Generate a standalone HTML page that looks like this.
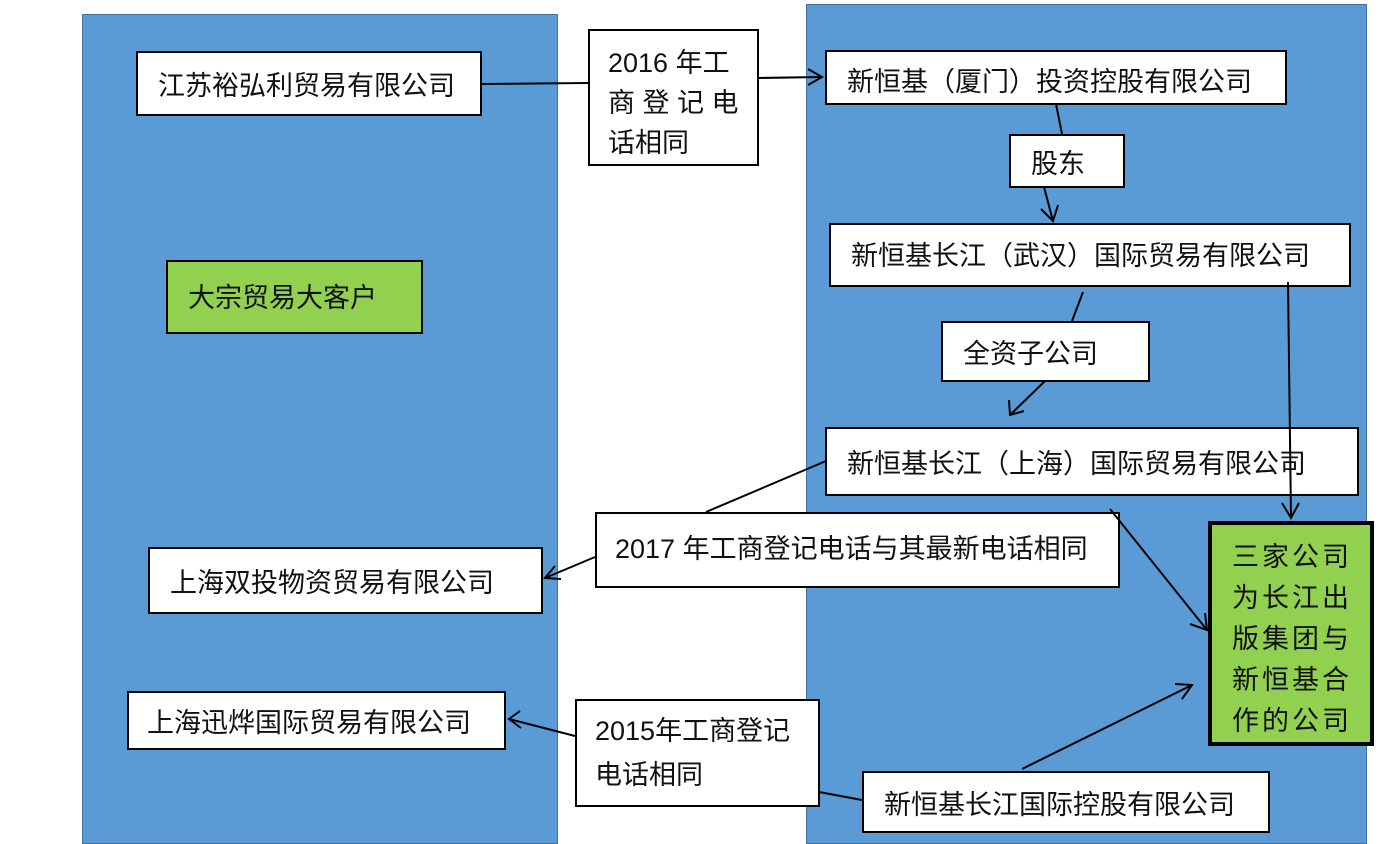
<!DOCTYPE html>
<html><head><meta charset="utf-8"><style>
body{margin:0;width:1398px;height:835px;background:#fff;position:relative;overflow:hidden;font-family:"Liberation Sans","Noto Sans CJK SC",sans-serif;}
.p{position:absolute;background:#5b9bd5;border:1px solid #41719c;box-sizing:border-box}
.b{position:absolute;background:#fff;border:2px solid #000;box-sizing:border-box;font-size:27px;color:#111;padding-left:20px;display:flex;align-items:center;white-space:nowrap}
.g{background:#92d050}
svg{position:absolute;left:0;top:0}
</style></head><body>
<div class="p" style="left:82px;top:14px;width:476px;height:830px"></div>
<div class="p" style="left:806px;top:4px;width:561px;height:840px"></div>

<div class="b" style="left:136px;top:51px;width:346px;height:65px">江苏裕弘利贸易有限公司</div>
<div class="b" style="left:588px;top:29px;width:171px;height:137px;display:block;padding:12px 0 0 18px;line-height:40px;white-space:normal">2016 年工<br>商 登 记 电<br>话相同</div>
<div class="b" style="left:825px;top:50px;width:462px;height:55px;padding-top:4px">新恒基（厦门）投资控股有限公司</div>
<div class="b" style="left:1009px;top:134px;width:116px;height:54px">股东</div>
<div class="b" style="left:829px;top:223px;width:522px;height:64px;padding-bottom:4px">新恒基长江（武汉）国际贸易有限公司</div>
<div class="b" style="left:941px;top:321px;width:209px;height:61px">全资子公司</div>
<div class="b" style="left:825px;top:427px;width:534px;height:69px;align-items:flex-start;padding-top:13px">新恒基长江（上海）国际贸易有限公司</div>
<div class="b g" style="left:1208px;top:521px;width:166px;height:225px;border-width:4px;display:block;padding:12px 0 0 20px;line-height:41px;white-space:normal;letter-spacing:3px;font-size:27px">三家公司<br>为长江出<br>版集团与<br>新恒基合<br>作的公司</div>
<div class="b" style="left:595px;top:512px;width:525px;height:76px;align-items:flex-start;padding-top:13px;padding-left:18px">2017 年工商登记电话与其最新电话相同</div>
<div class="b" style="left:148px;top:547px;width:395px;height:67px">上海双投物资贸易有限公司</div>
<div class="b g" style="left:166px;top:260px;width:257px;height:74px;align-items:flex-start;padding-top:14px">大宗贸易大客户</div>
<div class="b" style="left:127px;top:691px;width:379px;height:59px;padding-left:18px">上海迅烨国际贸易有限公司</div>
<div class="b" style="left:575px;top:699px;width:245px;height:108px;display:block;padding:8px 0 0 18px;line-height:44px;white-space:normal">2015年工商登记<br>电话相同</div>
<div class="b" style="left:862px;top:771px;width:408px;height:62px">新恒基长江国际控股有限公司</div>

<svg width="1398" height="835" fill="none" stroke="#000" stroke-width="2">
<line x1="481" y1="84" x2="588" y2="83"/>
<line x1="758" y1="78" x2="822" y2="77"/><polyline points="808,69 822,77 808,85"/>
<line x1="1056" y1="104" x2="1062" y2="134"/>
<line x1="1044" y1="187" x2="1053" y2="221"/><polyline points="1041,209 1053,221 1058,205"/>
<line x1="1083" y1="292" x2="1072" y2="321"/>
<line x1="1045" y1="381" x2="1010" y2="415"/><polyline points="1009,400 1010,415 1024,411"/>
<line x1="1288" y1="282" x2="1291" y2="518"/><polyline points="1282,503 1291,518 1299,503"/>
<line x1="826" y1="461" x2="706" y2="512"/>
<line x1="595" y1="557" x2="545" y2="578"/><polyline points="555,566 545,578 561,579"/>
<line x1="1110" y1="509" x2="1207" y2="630"/><polyline points="1190,624 1207,630 1205,613"/>
<line x1="1022" y1="769" x2="1192" y2="685"/><polyline points="1175,684 1192,685 1182,699"/>
<line x1="575" y1="736" x2="509" y2="719"/><polyline points="520,711 509,719 521,728"/>
<line x1="819" y1="792" x2="862" y2="800"/>
</svg>
</body></html>
